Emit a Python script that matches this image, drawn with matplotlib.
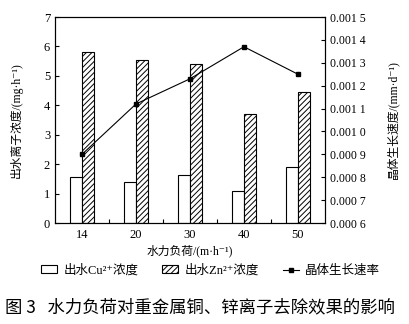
import matplotlib
matplotlib.use("Agg")
import matplotlib.pyplot as plt
import numpy as np
from matplotlib.patches import Patch
from matplotlib.lines import Line2D

plt.rcParams['font.family'] = ['Liberation Serif', 'Noto Sans CJK SC', 'DejaVu Sans']
plt.rcParams['hatch.linewidth'] = 0.7

categories = ['14', '20', '30', '40', '50']
cu_values = [1.56, 1.39, 1.64, 1.09, 1.90]
zn_values = [5.82, 5.54, 5.42, 3.69, 4.46]
growth_rate = [0.00090, 0.00112, 0.00123, 0.00137, 0.00125]
left_ticks = [0, 1, 2, 3, 4, 5, 6, 7]
right_ticks = [0.0006, 0.0007, 0.0008, 0.0009, 0.0010, 0.0011, 0.0012, 0.0013, 0.0014, 0.0015]
right_labels = ['0.000 6', '0.000 7', '0.000 8', '0.000 9', '0.001 0',
                '0.001 1', '0.001 2', '0.001 3', '0.001 4', '0.001 5']

fig = plt.figure(figsize=(4.09, 3.24), dpi=100)
ax = fig.add_axes([0.1345, 0.3117, 0.66, 0.6358])
x = np.arange(len(categories))
w = 0.22
ax.bar(x - w / 2, cu_values, width=w, facecolor='white', edgecolor='black', linewidth=0.8)
ax.bar(x + w / 2, zn_values, width=w, facecolor='white', edgecolor='black', linewidth=0.8, hatch='//////')
ax.set_xlim(-0.5, len(categories) - 0.5)
ax.set_ylim(0, 7)
ax.set_yticks(left_ticks)
ax.set_xticks(x)
ax.set_xticklabels(categories)
ax.set_xticks(np.arange(len(categories) - 1) + 0.5, minor=True)
ax.tick_params(axis='x', which='major', length=0, labelsize=9, pad=4)
ax.tick_params(axis='x', which='minor', direction='in', length=3, width=0.8)
ax.tick_params(axis='y', direction='in', length=3, width=0.8, labelsize=9)
for s in ax.spines.values():
    s.set_linewidth(0.8)
ax.set_xlabel('水力负荷/(m·h⁻¹)', fontsize=8.5, labelpad=3)
ax.set_ylabel('出水离子浓度/(mg·h⁻¹)', fontsize=8.5, labelpad=15)

ax2 = ax.twinx()
ax2.plot(x, growth_rate, color='black', linewidth=0.8, marker='s', markersize=3.5)
ax2.set_ylim(0.0006, 0.0015)
ax2.set_yticks(right_ticks)
ax2.set_yticklabels(right_labels)
ax2.tick_params(axis='y', direction='in', length=3, width=0.8, labelsize=8.5)
ax2.set_ylabel('晶体生长速度/(mm·d⁻¹)', fontsize=8.5, labelpad=15)

handles = [
    Patch(facecolor='white', edgecolor='black', linewidth=0.8),
    Patch(facecolor='white', edgecolor='black', linewidth=0.8, hatch='//////'),
    Line2D([0], [0], color='black', linewidth=0.8, marker='s', markersize=3),
]
labels = ['出水Cu²⁺浓度', '出水Zn²⁺浓度', '晶体生长速率']
fig.legend(handles, labels, loc='center', bbox_to_anchor=(0.515, 0.165), ncol=3,
           frameon=False, fontsize=9, handlelength=1.3, handleheight=0.6,
           handletextpad=0.5, columnspacing=1.9)

fig.text(0.012, 0.05, '图 3   水力负荷对重金属铜、锌离子去除效果的影响',
         fontsize=12.5, ha='left', va='center', family=['Noto Sans CJK SC', 'DejaVu Sans'])

fig.savefig('out.png', dpi=100)
